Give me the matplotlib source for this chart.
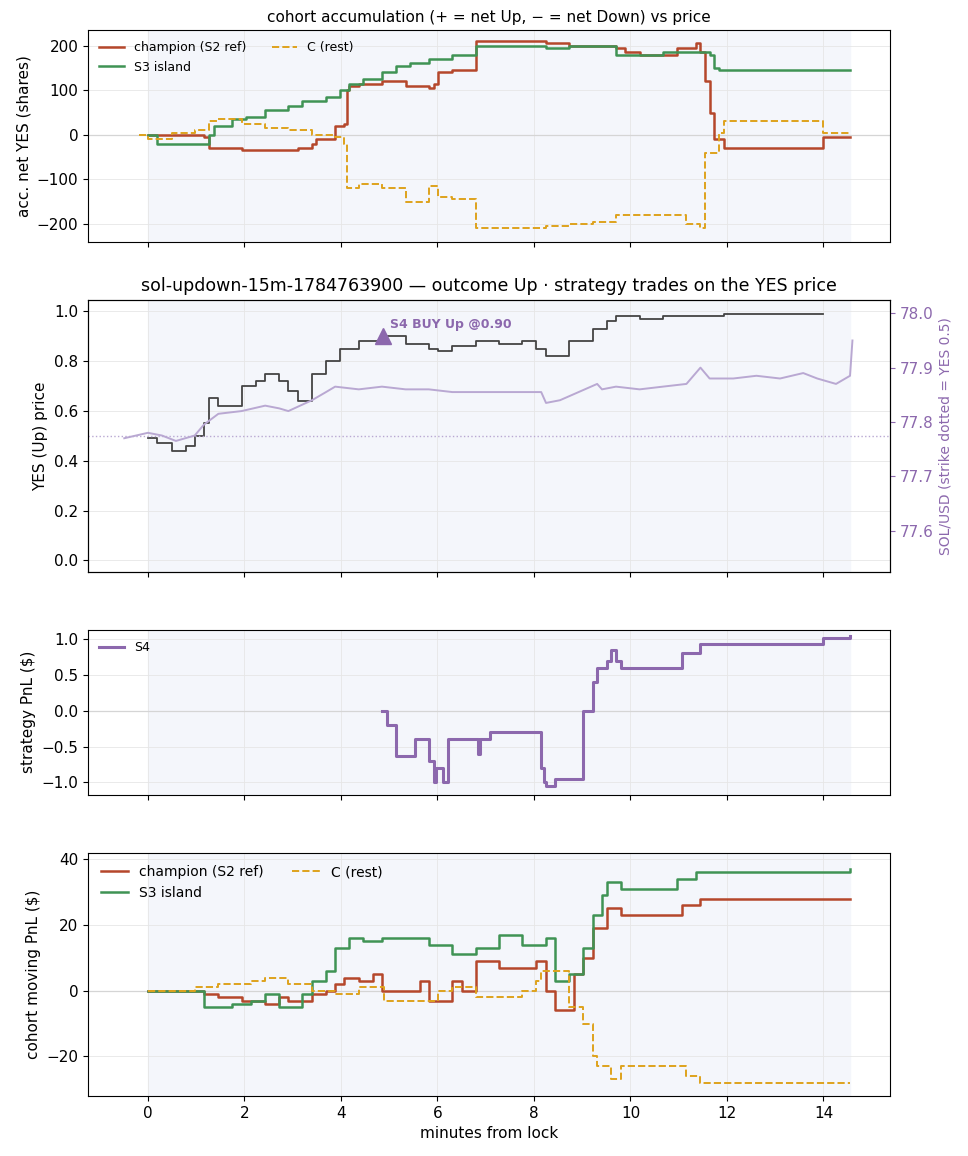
import matplotlib
matplotlib.use("Agg")
import matplotlib.pyplot as plt

plt.rcParams["font.size"] = 11

RED = "#b5472b"
GREEN = "#3f9354"
ORANGE = "#dea21c"
PURPLE = "#8c68ad"
LPURPLE = "#b9a8d2"
BG = "#f4f6fb"
T_END = 14.55

# panel 1: accumulated net YES (shares)
champ_acc_t = [0, 1.16, 1.26, 1.94, 3.1, 3.4, 3.49, 3.88, 4.07, 4.12, 4.17, 4.37, 4.85, 5.34, 5.82, 5.92, 6.01, 6.31, 6.79, 7.76, 8.25, 8.73, 9.7, 9.89, 10.19, 10.67, 10.96, 11.35, 11.45, 11.54, 11.64, 11.74, 11.93, 14.0, 14.55]
champ_acc_v = [0, -5, -30, -35, -30, -20, -10, 20, 25, 100, 110, 115, 120, 110, 105, 115, 140, 145, 210, 210, 205, 200, 195, 185, 180, 180, 195, 205, 185, 120, 50, -10, -30, -5, -5]
s3_acc_t = [0, 0.19, 1.16, 1.26, 1.36, 1.75, 2.04, 2.43, 2.91, 3.2, 3.69, 3.98, 4.17, 4.46, 4.85, 5.14, 5.43, 5.82, 6.31, 6.79, 7.76, 8.25, 8.73, 9.7, 10.19, 10.67, 11.64, 11.74, 11.83, 14.55]
s3_acc_v = [0, -20, -20, 0, 20, 35, 40, 55, 65, 75, 85, 100, 115, 125, 140, 155, 160, 170, 180, 200, 200, 195, 200, 180, 180, 185, 180, 150, 145, 145]
c_acc_t = [-0.19, 0, 0.49, 0.97, 1.26, 1.46, 1.94, 2.43, 2.91, 3.4, 3.88, 4.07, 4.12, 4.37, 4.85, 5.34, 5.82, 6.01, 6.31, 6.79, 7.76, 8.25, 8.73, 9.22, 9.7, 10.67, 11.16, 11.45, 11.54, 11.83, 11.93, 14.0, 14.55]
c_acc_v = [0, -10, 5, 10, 30, 35, 25, 15, 10, 0, -5, -20, -120, -110, -120, -150, -115, -140, -145, -210, -210, -205, -200, -195, -180, -180, -200, -210, -40, 5, 30, 5, 5]

# panel 2: YES price and SOL/USD
yes_t = [0, 0.19, 0.49, 0.78, 0.97, 1.16, 1.26, 1.46, 1.94, 2.23, 2.43, 2.72, 2.91, 3.1, 3.4, 3.69, 3.98, 4.37, 4.85, 5.34, 5.82, 6.01, 6.31, 6.79, 7.28, 7.76, 8.05, 8.25, 8.73, 9.22, 9.51, 9.7, 10.19, 10.67, 11.93, 14.0]
yes_v = [0.49, 0.47, 0.44, 0.46, 0.5, 0.55, 0.65, 0.62, 0.7, 0.72, 0.75, 0.72, 0.68, 0.64, 0.75, 0.8, 0.85, 0.88, 0.9, 0.87, 0.85, 0.84, 0.86, 0.88, 0.87, 0.88, 0.85, 0.82, 0.88, 0.93, 0.96, 0.98, 0.97, 0.98, 0.99, 0.99]
sol_t = [-0.49, 0, 0.29, 0.58, 0.97, 1.16, 1.46, 1.94, 2.43, 2.72, 2.91, 3.4, 3.69, 3.88, 4.37, 4.85, 5.34, 5.82, 6.31, 6.79, 7.76, 8.15, 8.25, 8.54, 9.31, 9.41, 9.7, 10.19, 10.67, 11.16, 11.45, 11.64, 12.13, 12.61, 13.1, 13.58, 13.87, 14.26, 14.55, 14.6]
sol_v = [77.77, 77.78, 77.775, 77.765, 77.775, 77.795, 77.815, 77.82, 77.83, 77.825, 77.82, 77.84, 77.855, 77.865, 77.86, 77.865, 77.86, 77.86, 77.855, 77.855, 77.855, 77.855, 77.835, 77.84, 77.87, 77.86, 77.865, 77.86, 77.865, 77.87, 77.9, 77.88, 77.88, 77.885, 77.88, 77.89, 77.88, 77.87, 77.885, 77.95]
strike = 77.775
buy_t, buy_p = 4.87, 0.90

# panel 3: S4 PnL
s4_t = [4.85, 4.95, 5.14, 5.53, 5.82, 5.92, 5.97, 6.11, 6.21, 6.79, 6.84, 6.89, 7.08, 7.66, 8.15, 8.2, 8.25, 8.34, 8.44, 8.83, 9.02, 9.22, 9.31, 9.51, 9.6, 9.7, 9.8, 10.67, 11.06, 11.45, 14.0, 14.55]
s4_v = [0.0, -0.2, -0.63, -0.4, -0.7, -1.0, -0.8, -1.0, -0.4, -0.4, -0.6, -0.4, -0.3, -0.3, -0.8, -1.0, -1.05, -1.05, -0.95, -0.95, 0.0, 0.4, 0.6, 0.7, 0.85, 0.7, 0.6, 0.6, 0.8, 0.93, 1.02, 1.04]

# panel 4: cohort moving PnL
champ_pnl_t = [0, 1.16, 1.46, 1.94, 2.43, 2.72, 2.91, 3.4, 3.69, 3.88, 4.07, 4.37, 4.66, 4.85, 5.34, 5.63, 5.82, 6.31, 6.5, 6.79, 7.28, 7.76, 8.05, 8.25, 8.44, 8.83, 9.02, 9.22, 9.51, 9.8, 10.67, 11.06, 11.45, 14.0, 14.55]
champ_pnl_v = [0, -1, -2, -3, -4, -2, -3, -1, 0, 2, 4, 3, 5, 0, 0, 3, -3, 3, 0, 9, 7, 7, 9, 0, -6, 5, 10, 19, 25, 23, 23, 26, 28, 28, 28]
s3_pnl_t = [0, 1.16, 1.75, 2.13, 2.43, 2.72, 3.2, 3.4, 3.69, 3.88, 4.17, 4.46, 4.85, 5.82, 6.31, 6.79, 7.28, 7.76, 8.25, 8.44, 8.73, 9.02, 9.22, 9.41, 9.51, 9.8, 10.67, 10.96, 11.35, 14.0, 14.55]
s3_pnl_v = [0, -5, -4, -3, -1, -5, -1, 3, 6, 13, 16, 15, 16, 14, 11, 13, 17, 14, 16, 3, 5, 13, 23, 29, 33, 31, 31, 34, 36, 36, 37]
c_pnl_t = [0, 0.97, 1.46, 2.13, 2.43, 2.91, 3.4, 3.88, 4.37, 4.85, 4.9, 5.82, 6.01, 6.31, 6.79, 7.76, 8.05, 8.15, 8.73, 9.02, 9.22, 9.31, 9.6, 9.8, 10.96, 11.16, 11.45, 14.0, 14.55]
c_pnl_v = [0, 1, 2, 3, 4, 2, 0, -1, 1, 1, -3, -3, 0, 1, -2, 0, 3, 6, -5, -10, -20, -23, -27, -23, -23, -26, -28, -28, -28]

fig, axes = plt.subplots(4, 1, figsize=(9.68, 11.56), dpi=100, sharex=True,
                         gridspec_kw=dict(height_ratios=[221, 284, 172, 254], hspace=0.26))
fig.subplots_adjust(left=0.091, right=0.919, top=0.974, bottom=0.052)

for ax in axes:
    ax.axvspan(0, T_END, color=BG, zorder=0)
    ax.grid(True, color="#e6e6e6", linewidth=0.6)
    ax.set_axisbelow(True)
axes[0].set_xlim(-1.24, 15.37)

ax = axes[0]
ax.axhline(0, color="#d5d5d5", lw=0.9)
ax.step(champ_acc_t, champ_acc_v, where="post", color=RED, lw=1.8, label="champion (S2 ref)")
ax.step(s3_acc_t, s3_acc_v, where="post", color=GREEN, lw=1.8, label="S3 island")
ax.step(c_acc_t, c_acc_v, where="post", color=ORANGE, lw=1.4, ls="--", label="C (rest)")
ax.set_ylim(-240, 235)
ax.set_ylabel("acc. net YES (shares)")
ax.set_title("cohort accumulation (+ = net Up, − = net Down) vs price", fontsize=11)
ax.legend(loc="upper left", ncol=2, fontsize=9, frameon=False)

ax = axes[1]
ax.step(yes_t, yes_v, where="post", color="#444444", lw=1.3)
ax.set_ylim(-0.046, 1.046)
ax.set_ylabel("YES (Up) price")
ax.set_title("sol-updown-15m-1784763900 — outcome Up · strategy trades on the YES price", fontsize=12.5)
ax.plot([buy_t], [buy_p], marker="^", color=PURPLE, ms=11, ls="none", zorder=5)
ax.annotate("S4 BUY Up @0.90", (buy_t, buy_p), xytext=(5, 6), textcoords="offset points",
            color=PURPLE, fontsize=9, fontweight="bold")
ax2 = ax.twinx()
ax2.plot(sol_t, sol_v, color=LPURPLE, lw=1.4)
ax2.axhline(strike, color=LPURPLE, lw=1, ls=":")
ax2.set_ylim(77.524, 78.025)
ax2.set_ylabel("SOL/USD (strike dotted = YES 0.5)", color=PURPLE, fontsize=10)
ax2.tick_params(axis="y", colors=PURPLE, labelsize=11)

ax = axes[2]
ax.axhline(0, color="#d5d5d5", lw=0.9)
ax.step(s4_t, s4_v, where="post", color=PURPLE, lw=2.2, label="S4")
ax.set_ylim(-1.17, 1.13)
ax.set_ylabel("strategy PnL ($)")
ax.legend(loc="upper left", fontsize=9, frameon=False)

ax = axes[3]
ax.axhline(0, color="#d5d5d5", lw=0.9)
ax.step(champ_pnl_t, champ_pnl_v, where="post", color=RED, lw=1.8, label="champion (S2 ref)")
ax.step(s3_pnl_t, s3_pnl_v, where="post", color=GREEN, lw=1.8, label="S3 island")
ax.step(c_pnl_t, c_pnl_v, where="post", color=ORANGE, lw=1.4, ls="--", label="C (rest)")
ax.set_ylim(-32, 42)
ax.set_ylabel("cohort moving PnL ($)")
ax.set_xlabel("minutes from lock")
ax.legend(loc="upper left", ncol=2, fontsize=10, frameon=False)

fig.savefig("out.png", dpi=100)
